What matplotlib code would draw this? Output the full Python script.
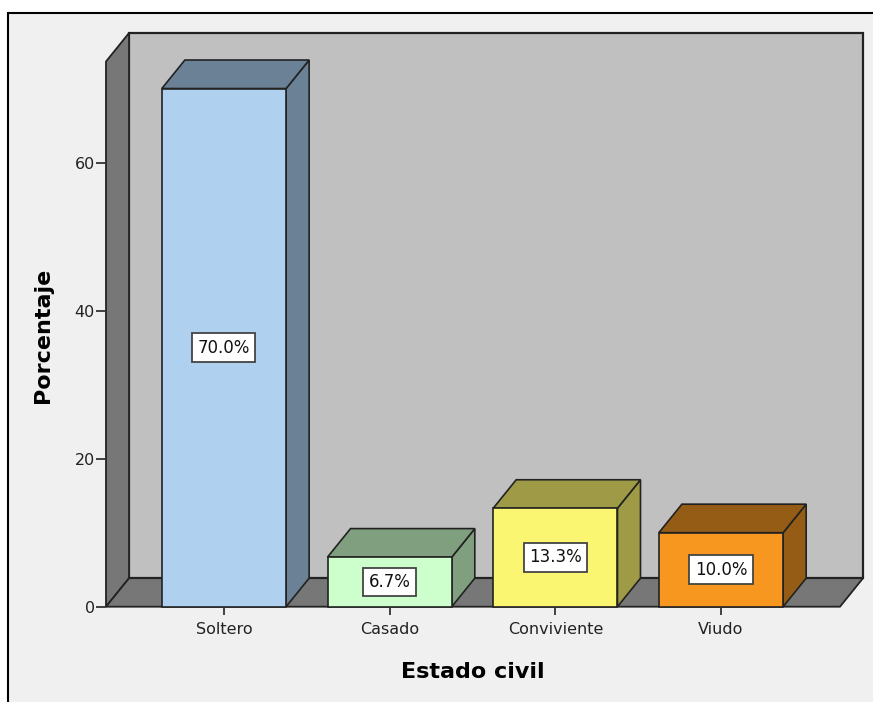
import matplotlib.pyplot as plt
from matplotlib.patches import Polygon, Rectangle
import numpy as np

# data
categories = ['Soltero', 'Casado', 'Conviviente', 'Viudo']
percentages = [70.0, 6.7, 13.3, 10.0]
front_colors = ['#afd0ee', '#ccffcc', '#fbf671', '#f7971f']
side_colors = ['#6a8196', '#7f9f7f', '#9e9a45', '#955c15']
y_ticks = [0, 20, 40, 60]

# 3d look settings (data units)
depth_x = 0.139
depth_y = 3.85
bar_w = 0.75
x_left, x_right = -0.712, 3.718
y_top = 73.65

plt.rcParams['font.family'] = ['DejaVu Sans']

fig = plt.figure(figsize=(8.73, 7.02), dpi=100)
fig.patch.set_facecolor('white')
# grey panel with the black frame
frame = Rectangle((8 / 873, -0.01), 1.0, (702 - 13) / 702 + 0.01,
                  transform=fig.transFigure, facecolor='#f0f0f0',
                  edgecolor='black', linewidth=1.5, zorder=-10)
fig.patches.append(frame)

ax = fig.add_axes([106 / 873, (702 - 606.7) / 702, 757 / 873, 573.7 / 702])
ax.set_zorder(1)
ax.set_xlim(x_left, x_right + depth_x)
ax.set_ylim(0, y_top + depth_y)
ax.patch.set_alpha(0)
for s in ax.spines.values():
    s.set_visible(False)

edge = '#222222'
# back wall
ax.add_patch(Polygon([(x_left + depth_x, depth_y), (x_right + depth_x, depth_y),
                      (x_right + depth_x, y_top + depth_y), (x_left + depth_x, y_top + depth_y)],
                     closed=True, facecolor='#c0c0c0', edgecolor=edge, lw=1.6, clip_on=False))
# left wall
ax.add_patch(Polygon([(x_left, 0), (x_left + depth_x, depth_y),
                      (x_left + depth_x, y_top + depth_y), (x_left, y_top)],
                     closed=True, facecolor='#777777', edgecolor=edge, lw=1.3, clip_on=False))
# floor
ax.add_patch(Polygon([(x_left, 0), (x_right, 0), (x_right + depth_x, depth_y),
                      (x_left + depth_x, depth_y)],
                     closed=True, facecolor='#777777', edgecolor=edge, lw=1.3, clip_on=False))

for i, v in enumerate(percentages):
    l = i - bar_w / 2
    r = i + bar_w / 2
    side = [(r, 0), (r + depth_x, depth_y), (r + depth_x, v + depth_y), (r, v)]
    top = [(l, v), (r, v), (r + depth_x, v + depth_y), (l + depth_x, v + depth_y)]
    ax.add_patch(Polygon(side, closed=True, facecolor=side_colors[i], edgecolor=edge, lw=1.2, clip_on=False))
    ax.add_patch(Polygon(top, closed=True, facecolor=side_colors[i], edgecolor=edge, lw=1.2, clip_on=False))
    ax.add_patch(Rectangle((l, 0), bar_w, v, facecolor=front_colors[i], edgecolor=edge, lw=1.2, clip_on=False))
    ax.text(i, v / 2, '%.1f%%' % v, ha='center', va='center', fontsize=12, color='#111111',
            bbox=dict(boxstyle='square,pad=0.32', facecolor='white', edgecolor='#444444', lw=1.3))

ax.set_xticks(range(len(categories)))
ax.set_xticklabels(categories, fontsize=11.5, color='#222222')
ax.set_yticks(y_ticks)
ax.set_yticklabels([str(t) for t in y_ticks], fontsize=11.5, color='#222222')
ax.tick_params(axis='x', length=6, width=1.3, color='#333333', pad=5)
ax.tick_params(axis='y', length=7, width=1.3, color='#333333', pad=1)

ax.set_xlabel('Estado civil', fontsize=16, fontweight='bold')
ax.set_ylabel('Porcentaje', fontsize=16, fontweight='bold')
ax.xaxis.set_label_coords(0.485, -0.1138)
ax.xaxis.label.set_va('center')
ax.yaxis.set_label_coords(-0.0832, 0.4736)
ax.yaxis.label.set_va('center')

fig.savefig('out.png', dpi=100)
